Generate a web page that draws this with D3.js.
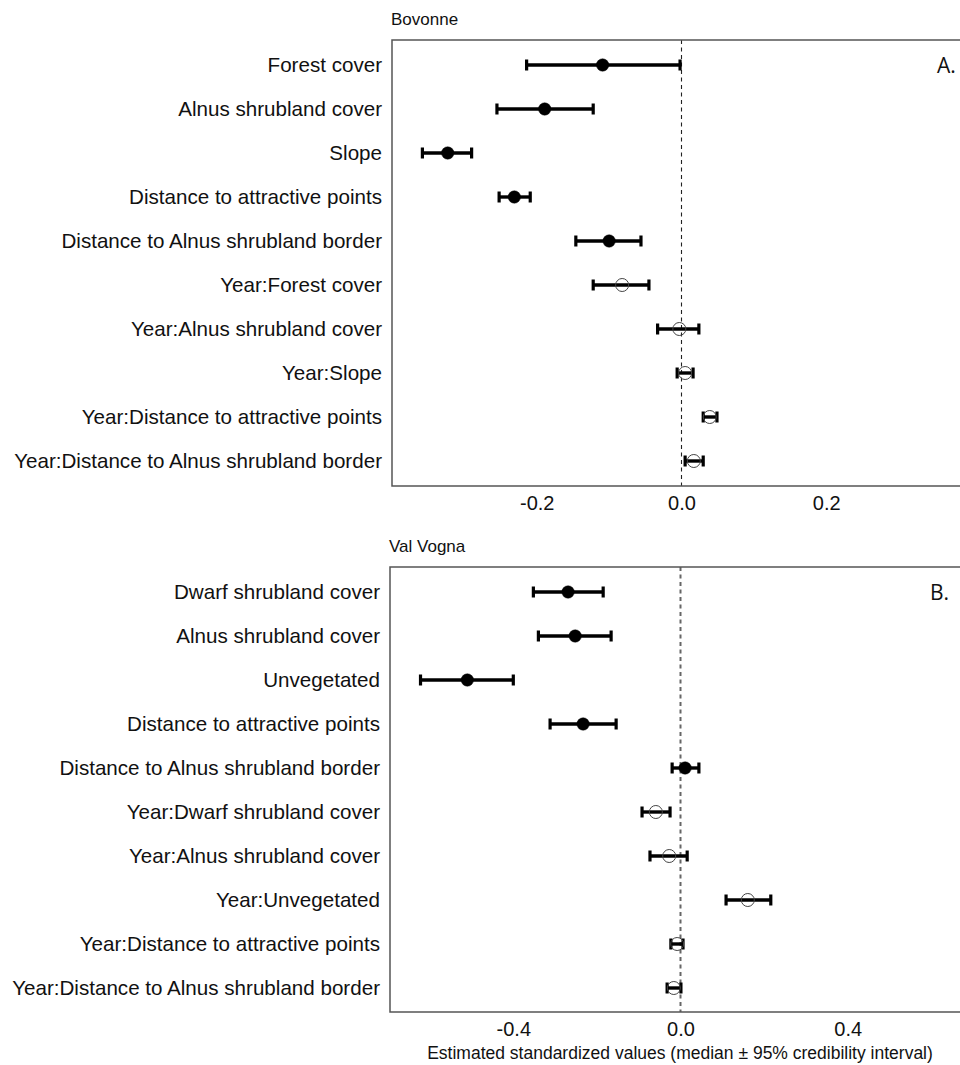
<!DOCTYPE html>
<html>
<head>
<meta charset="utf-8">
<script src="https://cdn.jsdelivr.net/npm/d3@7"></script>
<style>
body { margin: 0; background: #fff; }
svg { display: block; }
</style>
</head>
<body>
<svg id="chart" width="960" height="1065"></svg>
<script>
// ---------- Data ----------
const labelsA = ["Forest cover", "Alnus shrubland cover", "Slope", "Distance to attractive points",
  "Distance to Alnus shrubland border", "Year:Forest cover", "Year:Alnus shrubland cover",
  "Year:Slope", "Year:Distance to attractive points", "Year:Distance to Alnus shrubland border"];
const medianA = [-0.109, -0.189, -0.323, -0.231, -0.100, -0.082, -0.003, 0.005, 0.039, 0.017];
const lowerA  = [-0.214, -0.255, -0.358, -0.252, -0.146, -0.122, -0.033, -0.006, 0.030, 0.005];
const upperA  = [-0.002, -0.122, -0.290, -0.209, -0.056, -0.045, 0.024, 0.016, 0.049, 0.030];
const filledA = [true, true, true, true, true, false, false, false, false, false];

const labelsB = ["Dwarf shrubland cover", "Alnus shrubland cover", "Unvegetated", "Distance to attractive points",
  "Distance to Alnus shrubland border", "Year:Dwarf shrubland cover", "Year:Alnus shrubland cover",
  "Year:Unvegetated", "Year:Distance to attractive points", "Year:Distance to Alnus shrubland border"];
const medianB = [-0.269, -0.252, -0.510, -0.233, 0.011, -0.059, -0.027, 0.161, -0.008, -0.016];
const lowerB  = [-0.352, -0.340, -0.622, -0.312, -0.020, -0.092, -0.073, 0.109, -0.023, -0.032];
const upperB  = [-0.185, -0.166, -0.400, -0.154, 0.044, -0.025, 0.016, 0.216, 0.006, 0.001];
const filledB = [true, true, true, true, true, false, false, false, false, false];

const ticksA = [-0.2, 0.0, 0.2];
const tickLabelsA = ["-0.2", "0.0", "0.2"];
const ticksB = [-0.4, 0.0, 0.4];
const tickLabelsB = ["-0.4", "0.0", "0.4"];

const titleA = "Bovonne", titleB = "Val Vogna";
const letterA = "A.", letterB = "B.";
const xTitle = "Estimated standardized values (median \u00b1 95% credibility interval)";

// ---------- Drawing ----------
const svg = d3.select("#chart");
const FONT = "'Liberation Sans', Arial, Helvetica, sans-serif";

function panel(cfg) {
  const g = svg.append("g");
  const x = d3.scaleLinear().domain(cfg.domain).range([cfg.left, cfg.right]);
  const y = d3.scalePoint().domain(cfg.labels).range([cfg.rowTop, cfg.rowBottom]);

  // title
  g.append("text").attr("x", cfg.left - 1).attr("y", cfg.top - 15)
    .attr("font-family", FONT).attr("font-size", 17).attr("fill", "#111")
    .text(cfg.title);

  // zero dashed line
  g.append("line").attr("x1", x(0)).attr("x2", x(0))
    .attr("y1", cfg.top).attr("y2", cfg.bottom)
    .attr("stroke", cfg.dashColor).attr("stroke-width", cfg.dashWidth)
    .attr("stroke-dasharray", "4,3.5");

  // box
  g.append("rect").attr("x", cfg.left).attr("y", cfg.top)
    .attr("width", cfg.right - cfg.left).attr("height", cfg.bottom - cfg.top)
    .attr("fill", "none").attr("stroke", "#555").attr("stroke-width", 1.5);

  // x axis labels (no tick marks)
  const ax = g.append("g").attr("transform", `translate(0,${cfg.bottom})`)
    .call(d3.axisBottom(x).tickValues(cfg.ticks)
      .tickFormat((d, i) => cfg.tickLabels[i]).tickSize(0).tickPadding(10));
  ax.select(".domain").remove();
  ax.selectAll("text").attr("font-family", FONT).attr("font-size", 20).attr("fill", "#111");

  // y axis labels (no tick marks)
  const ay = g.append("g").attr("transform", `translate(${cfg.left},0)`)
    .call(d3.axisLeft(y).tickSize(0).tickPadding(10));
  ay.select(".domain").remove();
  ay.selectAll("text").attr("font-family", FONT).attr("font-size", 20.6).attr("fill", "#111");

  const rows = cfg.labels.map((l, i) => ({ l, m: cfg.median[i], lo: cfg.lower[i], hi: cfg.upper[i], f: cfg.filled[i] }));

  // error bars
  g.selectAll(".bar").data(rows).enter().append("line")
    .attr("x1", d => x(d.lo)).attr("x2", d => x(d.hi))
    .attr("y1", d => y(d.l)).attr("y2", d => y(d.l))
    .attr("stroke", "#000").attr("stroke-width", 3.4);
  ["lo", "hi"].forEach(k => {
    g.selectAll(".cap" + k).data(rows).enter().append("line")
      .attr("x1", d => x(d[k])).attr("x2", d => x(d[k]))
      .attr("y1", d => y(d.l) - 5.5).attr("y2", d => y(d.l) + 5.5)
      .attr("stroke", "#000").attr("stroke-width", 3.2);
  });

  // points
  g.selectAll(".pt").data(rows).enter().append("circle")
    .attr("cx", d => x(d.m)).attr("cy", d => y(d.l))
    .attr("r", d => d.f ? 6.2 : 6.5)
    .attr("fill", d => d.f ? "#000" : "none")
    .attr("stroke", d => d.f ? "#000" : "#444")
    .attr("stroke-width", d => d.f ? 0.5 : 1);

  // panel letter
  g.append("text").attr("x", cfg.letterX).attr("y", cfg.rowTop + 8)
    .attr("font-family", "'Open Sans', 'Noto Sans', sans-serif").attr("font-size", 21)
    .attr("fill", "#111").text(cfg.letter);
}

panel({
  labels: labelsA, median: medianA, lower: lowerA, upper: upperA, filled: filledA,
  domain: [-0.4, 0.4], left: 392, right: 971, top: 40, bottom: 486,
  rowTop: 65, rowBottom: 461, ticks: ticksA, tickLabels: tickLabelsA,
  title: titleA, letter: letterA, letterX: 937, dashColor: "#222", dashWidth: 1.1
});

panel({
  labels: labelsB, median: medianB, lower: lowerB, upper: upperB, filled: filledB,
  domain: [-0.695, 0.695], left: 390, right: 971, top: 567, bottom: 1012,
  rowTop: 592, rowBottom: 988, ticks: ticksB, tickLabels: tickLabelsB,
  title: titleB, letter: letterB, letterX: 930, dashColor: "#666", dashWidth: 2
});

svg.append("text").attr("x", 680).attr("y", 1059).attr("text-anchor", "middle")
  .attr("font-family", FONT).attr("font-size", 17.5).attr("fill", "#111")
  .text(xTitle);
</script>
</body>
</html>
